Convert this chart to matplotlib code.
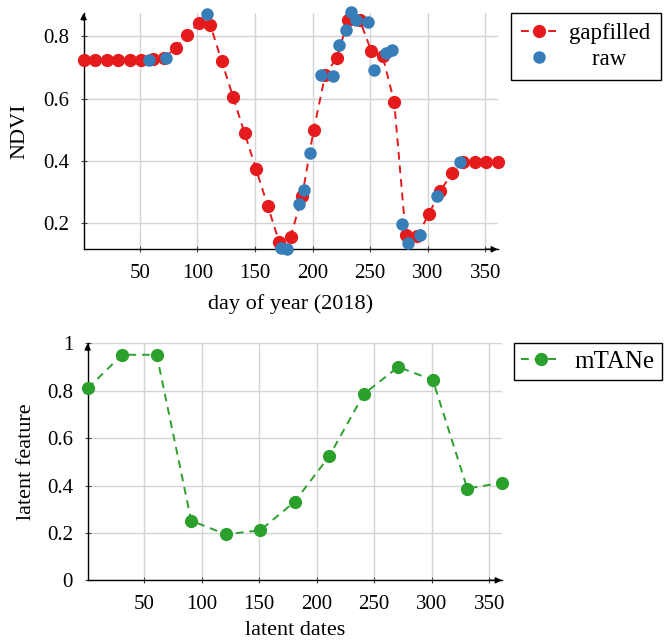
import matplotlib
matplotlib.use('agg')
import matplotlib.pyplot as plt

plt.rcParams['font.family'] = ['Liberation Serif', 'DejaVu Serif']
plt.rcParams['mathtext.fontset'] = 'stix'

# gapfilled NDVI (every 10 days)
gap_days = list(range(1, 362, 10))
gap_ndvi = [0.725, 0.725, 0.725, 0.725, 0.725, 0.725, 0.727, 0.731, 0.763, 0.804,
            0.843, 0.838, 0.721, 0.604, 0.488, 0.372, 0.255, 0.139, 0.156, 0.286,
            0.500, 0.675, 0.731, 0.853, 0.853, 0.753, 0.736, 0.588, 0.160, 0.157,
            0.228, 0.302, 0.359, 0.395, 0.395, 0.395, 0.395]

# raw observations
raw_days = [58, 73, 108, 173, 178, 188, 193, 198, 207, 218, 223, 229, 233, 238,
            248, 253, 264, 269, 278, 283, 293, 308, 328]
raw_ndvi = [0.725, 0.731, 0.873, 0.118, 0.115, 0.260, 0.305, 0.425, 0.675, 0.671,
            0.772, 0.821, 0.877, 0.853, 0.845, 0.693, 0.746, 0.755, 0.196, 0.134,
            0.160, 0.286, 0.395]

# latent feature of mTANe
lat_days = list(range(1, 362, 30))
lat_vals = [0.810, 0.952, 0.952, 0.252, 0.194, 0.211, 0.332, 0.524, 0.786, 0.901,
            0.845, 0.387, 0.412]

red = '#e41a1c'
blue = '#377eb8'
green = '#2ca02c'


def style_axes(ax):
    # pgfplots-like: only left/bottom axes with arrows, light grid
    ax.spines['top'].set_visible(False)
    ax.spines['right'].set_visible(False)
    for s in ('left', 'bottom'):
        ax.spines[s].set_linewidth(1.0)
    ax.grid(True, color='#d4d4d4', linewidth=1.0)
    ax.set_axisbelow(True)
    ax.tick_params(direction='inout', length=5, width=0.8, labelsize=15,
                   color='#444444', pad=8)
    ax.annotate('', xy=(1.0, 0), xytext=(0.97, 0), xycoords='axes fraction',
                arrowprops=dict(arrowstyle='-|>', color='black', lw=1.0,
                                mutation_scale=9, shrinkA=0, shrinkB=0))
    ax.annotate('', xy=(0, 1.0), xytext=(0, 0.97), xycoords='axes fraction',
                arrowprops=dict(arrowstyle='-|>', color='black', lw=1.0,
                                mutation_scale=9, shrinkA=0, shrinkB=0))


fig = plt.figure(figsize=(6.67, 6.42), dpi=100)

# top: NDVI
ax1 = fig.add_axes([0.1253, 0.6117, 0.621, 0.368])
ax1.plot(gap_days, gap_ndvi, color=red, linestyle=(0, (4, 3)), linewidth=1.4,
         marker='o', markersize=8.5, label='gapfilled', zorder=3, clip_on=False)
ax1.plot(raw_days, raw_ndvi, color=blue, linestyle='none', marker='o',
         markersize=8, label='    raw', zorder=4, clip_on=False)
ax1.set_xlim(1, 361)
ax1.set_ylim(0.115, 0.875)
ax1.set_xticks([50, 100, 150, 200, 250, 300, 350])
ax1.set_yticks([0.2, 0.4, 0.6, 0.8])
ax1.set_xlabel('day of year (2018)', fontsize=16, labelpad=8)
ax1.set_ylabel('NDVI', fontsize=16, labelpad=10)
style_axes(ax1)
ax1.legend(loc='upper left', bbox_to_anchor=(0.7657, 0.980),
           bbox_transform=fig.transFigure, fontsize=16.5, frameon=True,
           fancybox=False, edgecolor='black', framealpha=1, handlelength=1.6,
           borderpad=0.45, labelspacing=0.2, handletextpad=0.5,
           borderaxespad=0)

# bottom: latent feature
ax2 = fig.add_axes([0.1314, 0.0961, 0.621, 0.369])
ax2.plot(lat_days, lat_vals, color=green, linestyle=(0, (4, 3)), linewidth=1.4,
         marker='o', markersize=8.5, label='mTANe', zorder=3, clip_on=False)
ax2.set_xlim(1, 361)
ax2.set_ylim(0, 1)
ax2.set_xticks([50, 100, 150, 200, 250, 300, 350])
ax2.set_yticks([0, 0.2, 0.4, 0.6, 0.8, 1])
ax2.set_yticklabels(['0', '0.2', '0.4', '0.6', '0.8', '1'])
ax2.set_xlabel('latent dates', fontsize=16, labelpad=5)
ax2.set_ylabel('latent feature', fontsize=16, labelpad=8)
style_axes(ax2)
ax2.legend(loc='upper left', bbox_to_anchor=(0.7706, 0.4662),
           bbox_transform=fig.transFigure, fontsize=18, frameon=True,
           fancybox=False, edgecolor='black', framealpha=1, handlelength=1.6,
           borderpad=0.3, handletextpad=0.5, borderaxespad=0)

fig.savefig('out.png', dpi=100)
